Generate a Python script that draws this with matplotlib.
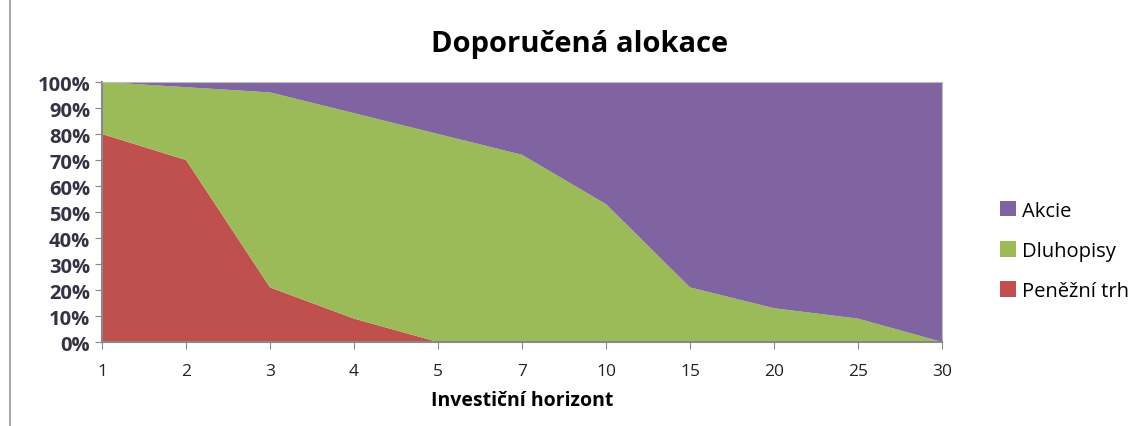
import numpy as np
import matplotlib.pyplot as plt
from matplotlib.patches import Patch
from matplotlib.ticker import PercentFormatter

# data (percent of portfolio)
horizont = ['1', '2', '3', '4', '5', '7', '10', '15', '20', '25', '30']
penezni_trh = [80, 70, 21, 9, 0, 0, 0, 0, 0, 0, 0]
dluhopisy = [20, 28, 75, 79, 80, 72, 53, 21, 13, 9, 0]
akcie = [0, 2, 4, 12, 20, 28, 47, 79, 87, 91, 100]

barvy = ['#C0504D', '#9BBB59', '#8064A2']
nazvy = ['Peněžní trh', 'Dluhopisy', 'Akcie']

plt.rcParams['font.family'] = ['Open Sans', 'DejaVu Sans']

fig = plt.figure(figsize=(11.48, 4.27), dpi=100)
ax = fig.add_axes([0.0889, 0.1967, 0.7317, 0.6089])

x = np.arange(len(horizont))
ax.stackplot(x, penezni_trh, dluhopisy, akcie, colors=barvy, linewidth=0)

ax.set_xlim(0, len(horizont) - 1)
ax.set_ylim(0, 100)
ax.set_xticks(x)
ax.set_xticklabels(horizont, fontsize=12.5, color='#222222')
ax.set_yticks(np.arange(0, 101, 10))
ax.yaxis.set_major_formatter(PercentFormatter(decimals=0))
for lab in ax.get_yticklabels():
    lab.set_fontweight('bold')
    lab.set_fontsize(14.5)
    lab.set_color('#333344')

ax.tick_params(axis='both', direction='out', length=5, color='#888888')
ax.tick_params(axis='x', pad=10)
for s in ['left', 'bottom']:
    ax.spines[s].set_color('#888888')
    ax.spines[s].set_linewidth(1.5)
for s in ['top', 'right']:
    ax.spines[s].set_color('#bbbbbb')
    ax.spines[s].set_linewidth(0.8)

ax.set_xlabel('Investiční horizont', fontsize=14, fontweight='bold', labelpad=8)
fig.suptitle('Doporučená alokace', x=0.505, y=0.93, fontsize=21, fontweight='bold')

handles = [Patch(facecolor=barvy[i], label=nazvy[i]) for i in [2, 1, 0]]
fig.legend(handles=handles, loc='center left', bbox_to_anchor=(0.855, 0.41),
           frameon=False, fontsize=14.5, handlelength=0.8, handleheight=0.8,
           handletextpad=0.3, labelspacing=1.0)

# thin frame line on the left like the original screenshot
fig.add_artist(plt.Line2D([10 / 1148, 10 / 1148], [0, 1], color='#aaaaaa', lw=1.5,
                          transform=fig.transFigure))

fig.savefig('out.png', dpi=100)
